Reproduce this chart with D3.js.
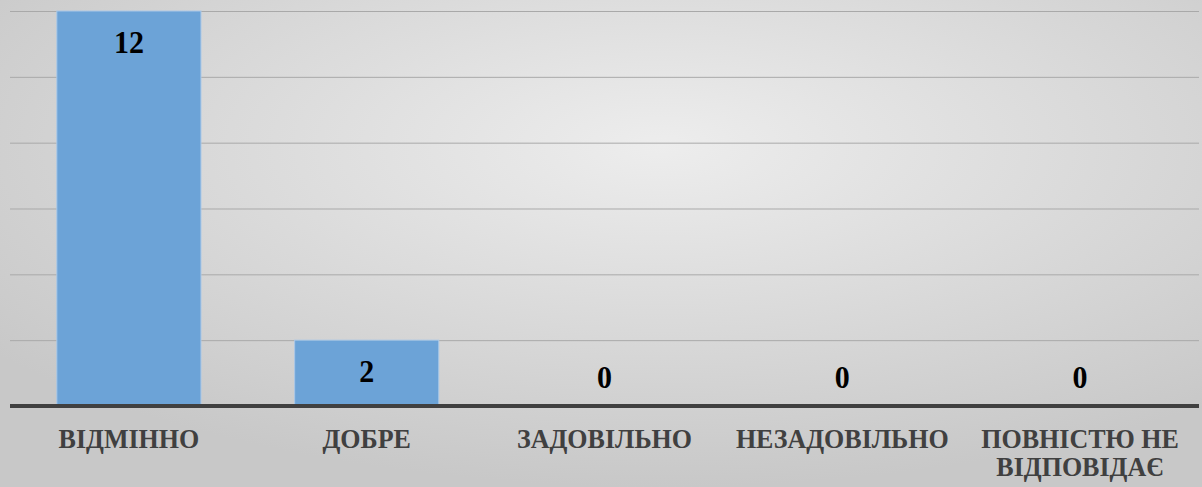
<!DOCTYPE html>
<html>
<head>
<meta charset="utf-8">
<script src="https://cdn.jsdelivr.net/npm/d3@7"></script>
<style>
  html, body { margin: 0; padding: 0; }
  body { width: 1202px; height: 487px; overflow: hidden; }
  text { font-family: "Liberation Serif"; font-weight: bold; }
</style>
</head>
<body>
<div id="chart"></div>
<script>
// chart data
var categories = ['ВІДМІННО', 'ДОБРЕ', 'ЗАДОВІЛЬНО', 'НЕЗАДОВІЛЬНО', 'ПОВНІСТЮ НЕ|ВІДПОВІДАЄ'];
var values = [12, 2, 0, 0, 0];
var yTicks = [0, 2, 4, 6, 8, 10, 12];

var width = 1202,
    height = 487;

var svg = d3.select('#chart').append('svg')
  .attr('width', width)
  .attr('height', height);

// grey background, lighter in the middle
var defs = svg.append('defs');
var grad = defs.append('radialGradient')
  .attr('id', 'bg')
  .attr('cx', '55%').attr('cy', '30%')
  .attr('r', '70%');
grad.append('stop').attr('offset', '0%').attr('stop-color', '#ededed');
grad.append('stop').attr('offset', '100%').attr('stop-color', '#c8c8c8');

svg.append('rect')
  .attr('width', width)
  .attr('height', height)
  .attr('fill', 'url(#bg)');

var x = d3.scaleBand()
  .domain(categories)
  .range([10, 1199])
  .paddingInner(0.394)
  .paddingOuter(0.197);

var y = d3.scaleLinear()
  .domain([0, 12])
  .range([406, 11]);

// gridlines
svg.append('g')
  .selectAll('line')
  .data(yTicks.filter(function(d) { return d > 0; }))
  .enter().append('line')
  .attr('x1', 10)
  .attr('x2', 1199)
  .attr('y1', function(d) { return y(d) + 0.5; })
  .attr('y2', function(d) { return y(d) + 0.5; })
  .attr('stroke', '#a9a9a9')
  .attr('stroke-width', 1);

// bars
svg.append('g')
  .selectAll('rect')
  .data(values)
  .enter().append('rect')
  .attr('x', function(d, i) { return x(categories[i]); })
  .attr('y', function(d) { return y(d); })
  .attr('width', x.bandwidth())
  .attr('height', function(d) { return y(0) - y(d); })
  .attr('fill', '#6ca3d7')
  .attr('stroke', '#a9c8e8')
  .attr('stroke-width', 1)
  .style('display', function(d) { return d > 0 ? null : 'none'; });

// value labels
svg.append('g')
  .selectAll('text')
  .data(values)
  .enter().append('text')
  .attr('transform', function(d, i) {
    var cx = x(categories[i]) + x.bandwidth() / 2;
    var cy = Math.min(y(d) + 42, y(0) - 18);
    return 'translate(' + cx + ',' + cy + ') scale(1,1.07)';
  })
  .attr('text-anchor', 'middle')
  .style('font-size', '30px')
  .attr('fill', '#000')
  .text(function(d) { return d; });

// x axis line
svg.append('line')
  .attr('x1', 10)
  .attr('x2', 1199)
  .attr('y1', y(0))
  .attr('y2', y(0))
  .attr('stroke', '#404040')
  .attr('stroke-width', 4);

// category labels, the long one wraps onto two lines
svg.append('g')
  .selectAll('g')
  .data(categories)
  .enter().append('g')
  .attr('transform', function(d) {
    return 'translate(' + (x(d) + x.bandwidth() / 2) + ',448)';
  })
  .each(function(d) {
    d3.select(this).selectAll('text')
      .data(d.split('|'))
      .enter().append('text')
      .attr('transform', function(t, i) { return 'translate(0,' + (i * 28) + ') scale(1,1.05)'; })
      .attr('text-anchor', 'middle')
      .style('font-size', '26px')
      .attr('fill', '#404040')
      .text(function(t) { return t; });
  });
</script>
</body>
</html>
